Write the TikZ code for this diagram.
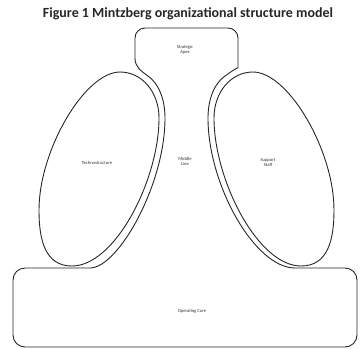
\documentclass[tikz,border=0pt]{standalone}
\usepackage{fontspec}
\setmainfont{Carlito}
\begin{document}
\begin{tikzpicture}[x=1pt,y=-1pt,
  outline/.style={draw=black!85,line width=0.9pt,line join=round},
  lbl/.style={font=\fontsize{4.6}{5}\selectfont,align=center,text=black!80,inner sep=0pt},
  titlestyle/.style={font=\bfseries,inner sep=0pt,text=black!85}]
\useasboundingbox (0,0) rectangle (360,349);
% title
\node[titlestyle] (title) at (188,14) {\resizebox{290pt}{!}{Figure 1 Mintzberg organizational structure model}};
% outer outline (strategic apex, middle line, operating core)
\draw[outline] (135,58) [rounded corners=10pt] -- (135,28) -- (238,28) -- (238,58) [sharp corners]
  .. controls (238,67) and (232,71) .. (225,76)
  .. controls (215,83) and (208,98) .. (208,118)
  .. controls (208,185) and (255,268) .. (295,268)
  [rounded corners=12pt] -- (357,268) -- (357,347) -- (13,347) -- (13,268) -- (78,268) [sharp corners]
  .. controls (118,268) and (165,185) .. (165,118)
  .. controls (165,98) and (158,83) .. (148,76)
  .. controls (141,71) and (135,67) .. (135,58) -- cycle;
% technostructure
\draw[outline] (120,72) .. controls (142,72) and (159,92) .. (159,118)
  .. controls (159,180) and (115,266) .. (72,266)
  .. controls (45,266) and (39,240) .. (39,210)
  .. controls (39,150) and (85,72) .. (120,72) -- cycle;
% support staff
\draw[outline] (253,72) .. controls (231,72) and (214,92) .. (214,118)
  .. controls (214,180) and (258,266) .. (301,266)
  .. controls (328,266) and (334,240) .. (334,210)
  .. controls (334,150) and (288,72) .. (253,72) -- cycle;
% labels
\node[lbl] (apex) at (185,50) {Strategic\\Apex};
\node[lbl] (techno) at (97,163) {Technostructure};
\node[lbl] (middle) at (185,161) {Middle\\Line};
\node[lbl] (support) at (268,163) {Support\\Staff};
\node[lbl] (core) at (192,311) {Operating Core};
\end{tikzpicture}
\end{document}
